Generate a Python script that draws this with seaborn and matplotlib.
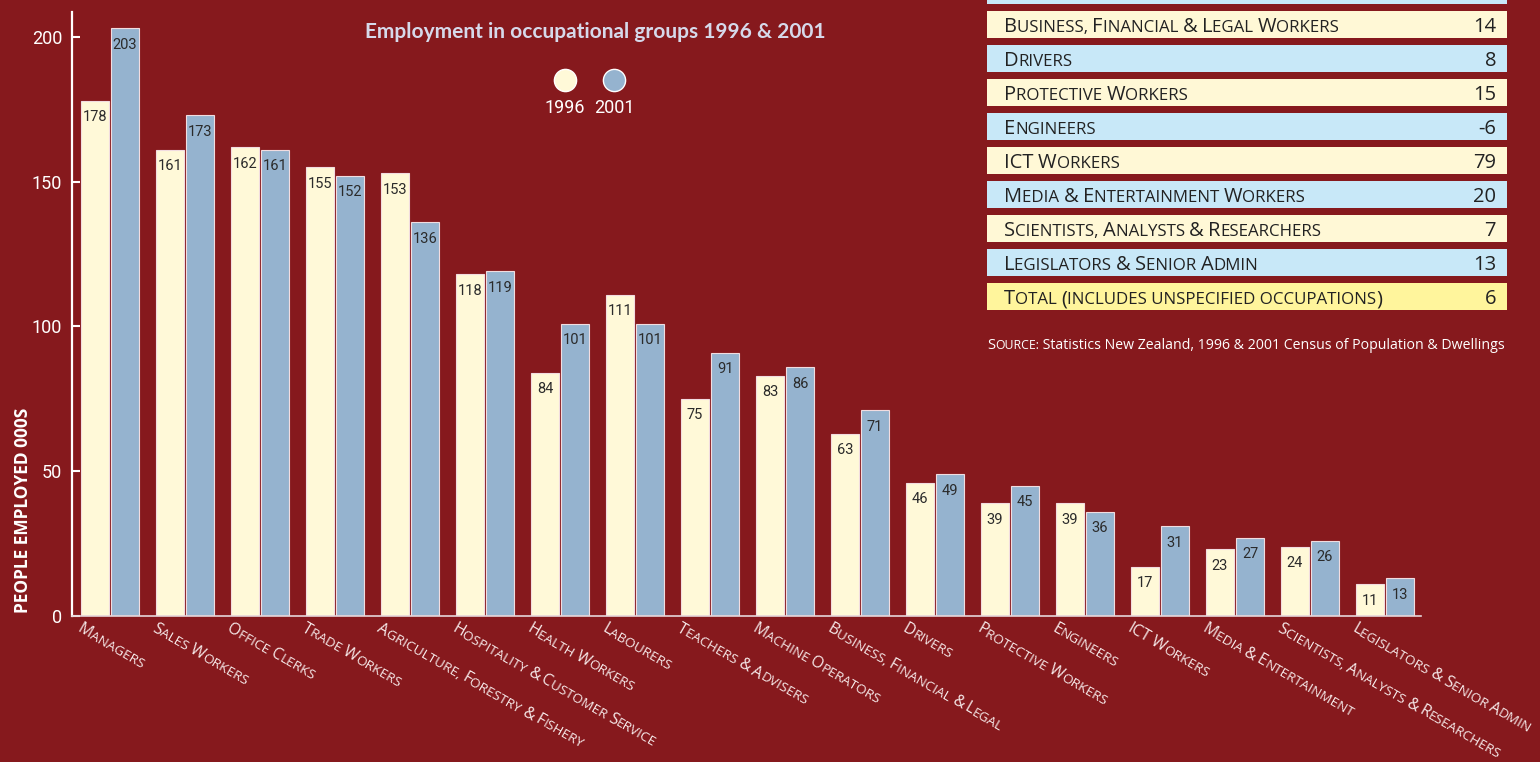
import math
import matplotlib
matplotlib.use('Agg')
import matplotlib.pyplot as plt
import seaborn as sns
import pandas as pd
from matplotlib import font_manager
from matplotlib.transforms import IdentityTransform
from matplotlib.patches import Rectangle
from matplotlib.lines import Line2D

# data
groups = ['Managers', 'Sales Workers', 'Office Clerks', 'Trade Workers',
          'Agriculture, Forestry & Fishery', 'Hospitality & Customer Service',
          'Health Workers', 'Labourers', 'Teachers & Advisers', 'Machine Operators',
          'Business, Financial & Legal', 'Drivers', 'Protective Workers', 'Engineers',
          'ICT Workers', 'Media & Entertainment', 'Scientists, Analysts & Researchers',
          'Legislators & Senior Admin']
emp_1996 = [178, 161, 162, 155, 153, 118, 84, 111, 75, 83, 63, 46, 39, 39, 17, 23, 24, 11]
emp_2001 = [203, 173, 161, 152, 136, 119, 101, 101, 91, 86, 71, 49, 45, 36, 31, 27, 26, 13]
years = ['1996', '2001']

table_names = ['Business, Financial & Legal Workers', 'Drivers', 'Protective Workers',
               'Engineers', 'ICT Workers', 'Media & Entertainment Workers',
               'Scientists, Analysts & Researchers', 'Legislators & Senior Admin',
               'Total (includes unspecified occupations)']
table_change = [14, 8, 15, -6, 79, 20, 7, 13, 6]

W, H = 1540, 762
BG = '#86191D'
CREAM = '#FFF9D8'
BLUE = '#95B3CF'
ROW_CREAM = '#FFF8D6'
ROW_BLUE = '#C8E8F8'
ROW_YELLOW = '#FFF59C'

names = {f.name for f in font_manager.fontManager.ttflist}
NARROW = 'Liberation Sans Narrow' if 'Liberation Sans Narrow' in names else 'Roboto'
SANS = 'Open Sans' if 'Open Sans' in names else 'DejaVu Sans'
TITLE_FONT = 'Lato' if 'Lato' in names else SANS

sns.set_theme(style='white')
plt.rcParams['font.family'] = [SANS, 'DejaVu Sans']

fig, ax = plt.subplots(figsize=(W / 100, H / 100), dpi=100)
fig.patch.set_facecolor(BG)
ax.set_facecolor(BG)
ax.set_position([72 / W, 1 - 616 / H, (1421 - 72) / W, (616 - 12) / H])

df = pd.DataFrame({
    'group': groups * 2,
    'year': [years[0]] * len(groups) + [years[1]] * len(groups),
    'value': emp_1996 + emp_2001,
})
sns.barplot(data=df, x='group', y='value', hue='year', palette=[CREAM, BLUE],
            saturation=1, width=0.8, gap=0.06, edgecolor='#F2DCE0', linewidth=0.8,
            legend=False, ax=ax)

for c in ax.containers:
    ax.bar_label(c, fmt='%d', padding=-17, fontsize=10.5, color='#2b2b2b', family=NARROW)

ax.set_ylim(0, 208.6)
ax.set_xlim(-0.507, 17.48)
ax.set_yticks([0, 50, 100, 150, 200])
ax.set_xticks([])
ax.set_xlabel('')
ax.set_ylabel('')
ax.tick_params(axis='y', direction='in', length=6, width=1.5, color='white',
               labelcolor='white', labelsize=13, pad=7, left=True)
for lab in ax.get_yticklabels():
    lab.set_family(NARROW)
for s in ['top', 'right']:
    ax.spines[s].set_visible(False)
ax.spines['left'].set_color('white')
ax.spines['left'].set_linewidth(1.6)
ax.spines['bottom'].set_color('#E6D6DA')
ax.spines['bottom'].set_linewidth(1.2)

renderer = fig.canvas.get_renderer()


def measure(s, size, family, weight='normal'):
    t1 = fig.text(0, 0, '|' + s + '|', fontsize=size, family=family, weight=weight)
    t2 = fig.text(0, 0, '||', fontsize=size, family=family, weight=weight)
    w = t1.get_window_extent(renderer).width - t2.get_window_extent(renderer).width
    t1.remove()
    t2.remove()
    return w


def sc_runs(s, big, small):
    runs = []
    for ch in s:
        if ch.isalpha() and ch.islower():
            size, ch = small, ch.upper()
        elif ch.isupper() or ch.isdigit() or ch in '&()':
            size = big
        else:
            size = small
        if runs and runs[-1][1] == size:
            runs[-1][0] += ch
        else:
            runs.append([ch, size])
    return runs


def draw_runs(x, y, runs, color, family=SANS, rotation=0, weight='normal'):
    # x, y in image pixels (y from top)
    y = H - y
    a = math.radians(rotation)
    for text, size in runs:
        fig.text(x, y, text, transform=IdentityTransform(), fontsize=size,
                 family=family, color=color, weight=weight, rotation=rotation,
                 rotation_mode='anchor', ha='left', va='baseline')
        w = measure(text, size, family, weight)
        x += w * math.cos(a)
        y += w * math.sin(a)


# rotated small-caps category labels
for i, g in enumerate(groups):
    px = ax.transData.transform((i - 0.45, 0))[0]
    draw_runs(px, 631, sc_runs(g, 11.5, 9.7), '#F6E8E8', rotation=-30)

# y label
fig.text(23 / W, 1 - 510 / H, 'PEOPLE EMPLOYED 000S', rotation=90, weight='bold',
         fontsize=12.5, color='white', ha='center', va='center', family=SANS)

# title
fig.text(595 / W, 1 - 32 / H, 'Employment in occupational groups 1996 & 2001',
         fontsize=15, weight='bold', color='#D6D9EA', ha='center', va='center',
         family=TITLE_FONT)

# legend
for xp, col, lab in [(565, CREAM, years[0]), (614, BLUE, years[1])]:
    fig.add_artist(Line2D([xp / W], [1 - 80 / H], marker='o', markersize=16,
                          markerfacecolor=col, markeredgecolor='white',
                          markeredgewidth=1, linestyle='none',
                          transform=fig.transFigure))
    fig.text(xp / W, 1 - 108 / H, lab, fontsize=13, color='white',
             ha='center', va='center', family=NARROW)

# change table (top right), drawn in its own pixel-unit axes
TX0, TW, TH, RH = 987, 520, 320, 27
tax = fig.add_axes([TX0 / W, 1 - TH / H, TW / W, TH / H])
tax.set_xlim(0, TW)
tax.set_ylim(TH, 0)
tax.axis('off')
row_cols = [ROW_CREAM, ROW_BLUE] * 4 + [ROW_YELLOW]
tax.add_patch(Rectangle((0, -23), TW, RH, facecolor=ROW_BLUE, edgecolor='none',
                        clip_on=False))
for k, (name, val) in enumerate(zip(table_names, table_change)):
    top = 11 + 34 * k
    tax.add_patch(Rectangle((0, top), TW, RH, facecolor=row_cols[k], edgecolor='none'))
    draw_runs(TX0 + 17, top + 21, sc_runs(name, 14.5, 12.2), '#222222')
    tax.text(TW - 11, top + 21, str(val), fontsize=14.5, color='#222222',
             ha='right', va='baseline', family=SANS)

# source
draw_runs(987, 349, [['S', 10.5], ['OURCE:', 8.8], [' Statistics New Zealand, 1996 & 2001 '
                                                    'Census of Population & Dwellings', 10.2]],
          'white')

fig.savefig('out.png', dpi=100, facecolor=BG)
